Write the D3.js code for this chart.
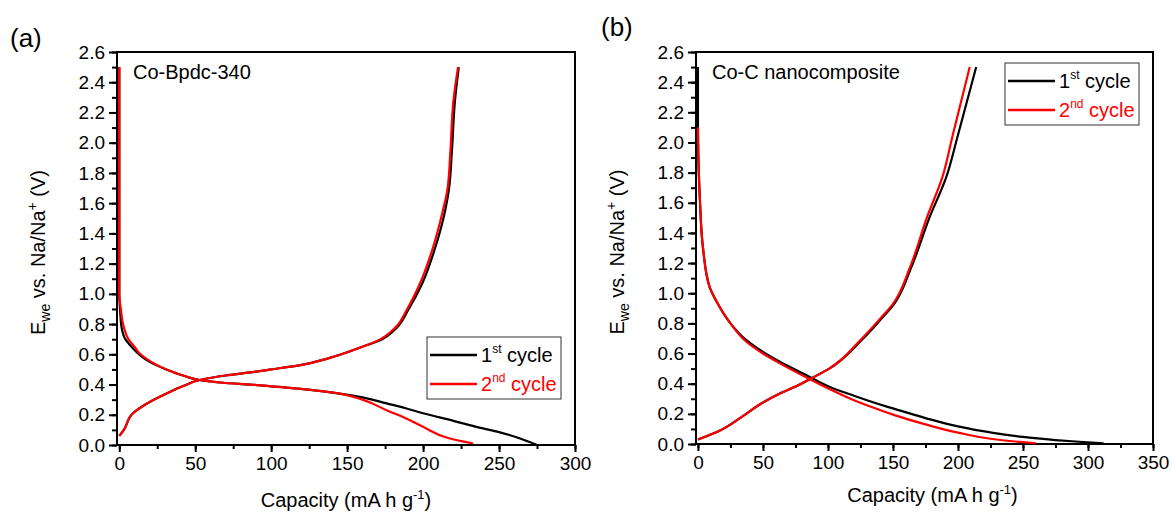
<!DOCTYPE html>
<html>
<head>
<meta charset="utf-8">
<script src="https://cdn.jsdelivr.net/npm/d3@7"></script>
<style>
  body { margin: 0; background: #fff; }
  text { font-family: "Liberation Sans", Arial, sans-serif; fill: #000; }
</style>
</head>
<body>
<svg id="chart" width="1172" height="513"></svg>
<script>
// capacity (mA h g-1), voltage (V) pairs

// (a) Co-Bpdc-340
const aDis1 = [[0,2.5],[0,1.6],[0,1.0],[0.5,0.9],[1.5,0.78],[4,0.7],[8,0.65],[13,0.6],[20,0.55],[31,0.5],[42,0.46],[53,0.43],[70,0.41],[86,0.4],[110,0.38],[130,0.36],[145,0.34],[160,0.315],[176,0.275],[188,0.245],[200,0.21],[220,0.16],[237,0.115],[250,0.085],[262,0.05],[275,0.0]];
const aDis2 = [[0,2.5],[0,1.6],[0,1.0],[1,0.9],[3,0.78],[6,0.7],[10,0.65],[14,0.6],[21,0.55],[31,0.5],[42,0.46],[53,0.43],[70,0.41],[86,0.4],[110,0.38],[130,0.36],[145,0.34],[160,0.3],[176,0.23],[190,0.17],[200,0.12],[217,0.045],[233,0.01]];
const aCha1 = [[0,0.06],[3,0.1],[9,0.21],[20,0.285],[31,0.34],[42,0.39],[53,0.43],[70,0.46],[86,0.48],[100,0.5],[120,0.53],[138,0.575],[160,0.65],[171,0.69],[183,0.78],[190,0.89],[199.5,1.07],[207.5,1.29],[214.5,1.55],[217,1.69],[219,1.95],[221,2.28],[223.5,2.5]];
const aCha2 = [[0,0.06],[3,0.1],[9,0.21],[20,0.285],[31,0.34],[42,0.39],[53,0.43],[70,0.46],[86,0.48],[100,0.5],[120,0.53],[138,0.575],[160,0.65],[170,0.69],[182,0.78],[189,0.89],[198,1.07],[206,1.29],[213,1.55],[216,1.69],[218,1.95],[220,2.28],[223,2.5]];

// (b) Co-C nanocomposite
const bDis1 = [[0,2.5],[0,2.1],[1.5,1.62],[4,1.29],[9,1.04],[14,0.95],[25,0.8],[37,0.69],[50,0.61],[63,0.545],[86,0.445],[101,0.38],[120,0.32],[140,0.262],[150,0.236],[175,0.172],[200,0.117],[225,0.077],[250,0.047],[275,0.026],[300,0.011],[312,0.004]];
const bDis2 = [[0,2.1],[1.5,1.62],[4,1.29],[9,1.04],[14,0.95],[25,0.8],[37,0.68],[50,0.6],[63,0.535],[86,0.43],[101,0.365],[120,0.29],[140,0.225],[150,0.195],[175,0.13],[200,0.075],[225,0.035],[250,0.012],[260,0.005]];
const bCha1 = [[0,0.03],[17,0.09],[32,0.17],[50,0.275],[63,0.335],[76,0.385],[86,0.43],[101,0.5],[126,0.69],[141,0.83],[151,0.93],[164,1.17],[178,1.5],[191,1.77],[200,2.05],[214,2.5]];
const bCha2 = [[0,0.03],[17,0.09],[32,0.17],[50,0.275],[63,0.335],[76,0.385],[86,0.43],[101,0.5],[125,0.69],[140,0.83],[150,0.93],[163,1.17],[176,1.5],[188,1.77],[196,2.05],[209,2.5]];

const yTicks = [0,0.2,0.4,0.6,0.8,1.0,1.2,1.4,1.6,1.8,2.0,2.2,2.4,2.6];
const aXTicks = [0,50,100,150,200,250,300];
const bXTicks = [0,50,100,150,200,250,300,350];
const legendLabels = [["1","st"," cycle"],["2","nd"," cycle"]];
const colors = ["#000000", "#ff0000"];

const svg = d3.select("#chart");

function drawPanel(cfg) {
    const x = d3.scaleLinear().domain(cfg.xDomain).range([cfg.left, cfg.right]);
    const y = d3.scaleLinear().domain([0, 2.6]).range([cfg.bottom, cfg.top]);
    const g = svg.append("g");

    // minor ticks first
    const xMinor = d3.range(0, cfg.xDomain[1] + 1, 25);
    const yMinor = d3.range(0, 27).map(d => d / 10);

    g.append("g")
        .attr("transform", `translate(0,${cfg.bottom})`)
        .call(d3.axisBottom(x).tickValues(xMinor).tickSize(4).tickSizeOuter(0).tickFormat(""))
        .call(s => s.select(".domain").remove())
        .selectAll("line").attr("stroke-width", 2);
    g.append("g")
        .attr("transform", `translate(${cfg.left},0)`)
        .call(d3.axisLeft(y).tickValues(yMinor).tickSize(5).tickSizeOuter(0).tickFormat(""))
        .call(s => s.select(".domain").remove())
        .selectAll("line").attr("stroke-width", 2);

    const gx = g.append("g")
        .attr("transform", `translate(0,${cfg.bottom})`)
        .call(d3.axisBottom(x).tickValues(cfg.xTicks).tickSize(7).tickSizeOuter(0).tickPadding(5));
    gx.select(".domain").remove();
    gx.selectAll("line").attr("stroke-width", 2);
    gx.selectAll("text").attr("font-size", 19);

    const gy = g.append("g")
        .attr("transform", `translate(${cfg.left},0)`)
        .call(d3.axisLeft(y).tickValues(yTicks).tickSize(8).tickSizeOuter(0).tickPadding(4).tickFormat(d3.format(".1f")));
    gy.select(".domain").remove();
    gy.selectAll("line").attr("stroke-width", 2);
    gy.selectAll("text").attr("font-size", 19);

    // frame
    g.append("rect")
        .attr("x", cfg.left).attr("y", cfg.top)
        .attr("width", cfg.right - cfg.left).attr("height", cfg.bottom - cfg.top)
        .attr("fill", "none").attr("stroke", "#000").attr("stroke-width", 2);

    // voltage is monotonic along every branch, so interpolate along y
    const line = d3.line()
        .x(d => x(d[0]))
        .y(d => y(d[1]))
        .curve(d3.curveMonotoneY);

    cfg.series.forEach(s => {
        const pts = s.data[0][1] > s.data[s.data.length - 1][1] ? s.data.slice().reverse() : s.data;
        g.append("path")
            .attr("d", line(pts))
            .attr("fill", "none")
            .attr("stroke", colors[s.c])
            .attr("stroke-width", 2.2)
            .attr("stroke-linejoin", "round");
    });

    // panel letter
    g.append("text")
        .attr("x", cfg.letterX).attr("y", cfg.letterY)
        .attr("font-size", 26)
        .text(cfg.letter);

    // sample name
    g.append("text")
        .attr("x", cfg.left + 16).attr("y", cfg.top + 27)
        .attr("font-size", 20)
        .text(cfg.name);

    // x title
    const xt = g.append("text")
        .attr("x", (cfg.left + cfg.right) / 2 + cfg.xTitleDx)
        .attr("y", cfg.xTitleY)
        .attr("font-size", 20)
        .attr("text-anchor", "middle");
    xt.append("tspan").text("Capacity (mA h g");
    xt.append("tspan").attr("font-size", 13).attr("dy", -8).text("-1");
    xt.append("tspan").attr("dy", 8).text(")");

    // y title
    const yt = g.append("text")
        .attr("transform", `translate(${cfg.left - 72},${(cfg.top + cfg.bottom) / 2 + 4}) rotate(-90)`)
        .attr("font-size", 20)
        .attr("text-anchor", "middle");
    yt.append("tspan").text("E");
    yt.append("tspan").attr("font-size", 14).attr("dy", 5).text("we");
    yt.append("tspan").attr("dy", -5).text(" vs. Na/Na");
    yt.append("tspan").attr("font-size", 14).attr("dy", -8).text("+");
    yt.append("tspan").attr("dy", 8).text(" (V)");

    // legend
    const lg = g.append("g").attr("transform", `translate(${cfg.legX},${cfg.legY})`);
    lg.append("rect")
        .attr("width", 134).attr("height", 62)
        .attr("fill", "#fff").attr("stroke", "#333").attr("stroke-width", 1);
    legendLabels.forEach((lab, i) => {
        const ly = 18 + i * 29;
        lg.append("line")
            .attr("x1", 3).attr("x2", 50).attr("y1", ly).attr("y2", ly)
            .attr("stroke", colors[i]).attr("stroke-width", 2.5);
        const t = lg.append("text")
            .attr("x", 54).attr("y", ly + 7)
            .attr("font-size", 20)
            .style("fill", colors[i]);
        t.append("tspan").text(lab[0]);
        t.append("tspan").attr("font-size", 12).attr("dy", -9).text(lab[1]);
        t.append("tspan").attr("dy", 9).text(lab[2]);
    });
}

drawPanel({
    left: 117, right: 575, top: 52, bottom: 445,
    xDomain: [-1.5, 300], xTicks: aXTicks,
    letter: "(a)", letterX: 10, letterY: 47,
    name: "Co-Bpdc-340",
    xTitleDx: 0, xTitleY: 507,
    legX: 427, legY: 337,
    series: [{data: aDis1, c: 0}, {data: aCha1, c: 0}, {data: aDis2, c: 1}, {data: aCha2, c: 1}]
});

drawPanel({
    left: 696, right: 1153, top: 52, bottom: 444,
    xDomain: [-1.5, 350], xTicks: bXTicks,
    letter: "(b)", letterX: 601, letterY: 36,
    name: "Co-C nanocomposite",
    xTitleDx: 8, xTitleY: 502,
    legX: 1005, legY: 63,
    series: [{data: bDis1, c: 0}, {data: bCha1, c: 0}, {data: bDis2, c: 1}, {data: bCha2, c: 1}]
});
</script>
</body>
</html>
